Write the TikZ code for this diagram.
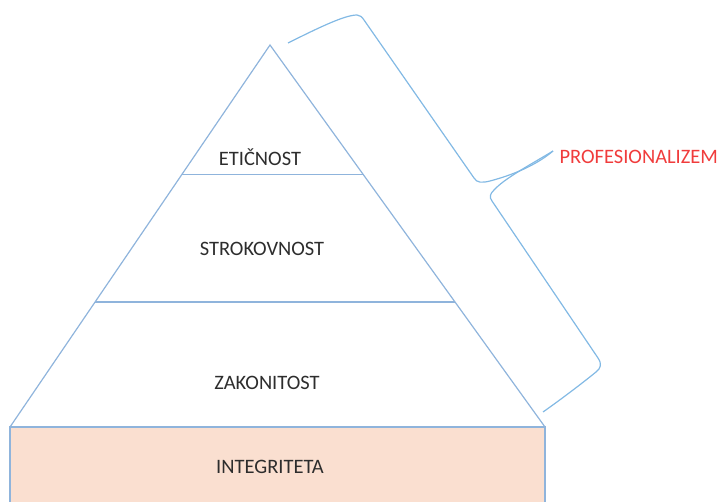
\documentclass[tikz,border=0pt]{standalone}
\usepackage{fontspec}
\setmainfont{Carlito}
\usetikzlibrary{calc}

\definecolor{linija}{RGB}{143,180,220}
\definecolor{zavit}{RGB}{130,185,228}
\definecolor{losos}{RGB}{250,223,208}
\definecolor{besedilo}{RGB}{45,45,45}
\definecolor{rdeca}{RGB}{240,60,60}

\begin{document}
\begin{tikzpicture}[x=1pt,y=-1pt]
			\tikzstyle{nivo}=[font=\fontsize{20.5}{24}\selectfont, text=besedilo]
			\tikzstyle{rob}=[draw=linija, line width=1.2pt]
			\tikzstyle{oklepaj}=[draw=zavit, line width=1.2pt]
			\useasboundingbox (0,0) rectangle (725,501);
			
			\coordinate (vrh) at (270,45);
			\coordinate (levo) at (10,427);
			\coordinate (desno) at (545,427);
			
			% temelj
			\filldraw[rob, fill=losos] (levo) rectangle (545,520);
			% piramida
			\draw[rob] (levo) -- (vrh) -- (desno);
			\draw[rob] ($(vrh)!0.338!(levo)$) -- ($(vrh)!0.338!(desno)$);
			\draw[rob] ($(vrh)!0.673!(levo)$) -- ($(vrh)!0.673!(desno)$);
			
			\node[nivo] (eticnost) at (260,157) {ETIČNOST};
			\node[nivo] (strokovnost) at (262,249) {STROKOVNOST};
			\node[nivo] (zakonitost) at (267,383) {ZAKONITOST};
			\node[nivo] (integriteta) at (270,467) {INTEGRITETA};
			\node[nivo, text=rdeca, anchor=west] (profesionalizem) at (556,157) {PROFESIONALIZEM};
			
			% zaviti oklepaj
			\draw[oklepaj] (288,43) .. controls (320,27) and (345,15) .. (357,15)
				.. controls (360,15) and (362,17) .. (364,20) -- (474,178)
				.. controls (477,183) and (482,183) .. (490,181)
				.. controls (520,173) and (540,162) .. (553,151);
			\draw[oklepaj] (553,151) .. controls (530,165) and (505,178) .. (494,190)
				.. controls (490,194) and (489,197) .. (492,201) -- (598,358)
				.. controls (602,364) and (601,368) .. (596,372)
				.. controls (580,385) and (560,400) .. (543,412);
			
			;\end{tikzpicture}
\end{document}
